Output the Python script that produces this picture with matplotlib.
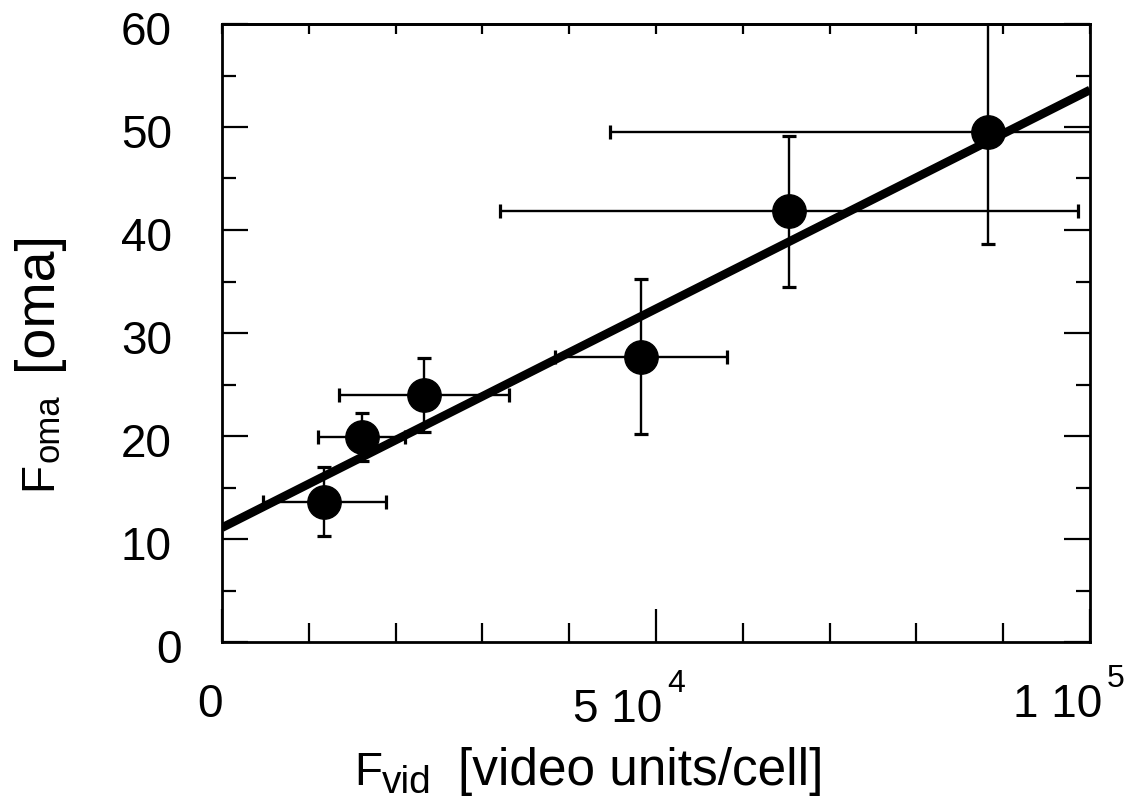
import numpy as np
import matplotlib
matplotlib.use("Agg")
import matplotlib.pyplot as plt
from matplotlib.ticker import MultipleLocator
from matplotlib.transforms import ScaledTranslation

plt.rcParams['font.family'] = ['Liberation Sans', 'DejaVu Sans']

# Measured cell fluorescence: video units vs. OMA counts
f_vid = [11.8e3, 16.1e3, 23.3e3, 48.3e3, 65.3e3, 88.2e3]
f_oma = [13.6, 19.9, 24.0, 27.7, 41.8, 49.5]
f_vid_err = [7.05e3, 5.0e3, 9.8e3, 9.9e3, 33.3e3, 43.5e3]
f_oma_err = [3.35, 2.35, 3.6, 7.5, 7.35, 10.9]

# Linear fit F_oma = intercept + slope * F_vid
fit_intercept = 11.1
fit_slope = 4.25e-4

x_tick_values = [0, 5e4, 1e5]
x_tick_mantissa = ['0', '5 10', '1 10']
x_tick_exponent = ['', '4', '5']
y_tick_values = [0, 10, 20, 30, 40, 50, 60]
y_tick_labels = ['0', '10', '20', '30', '40', '50', '60']

W, H = 1141, 800
fig = plt.figure(figsize=(W / 100, H / 100), dpi=100)
ax = fig.add_axes([222 / W, 1 - 642 / H, (1090 - 222) / W, (642 - 24) / H])

ax.set_xlim(0, 1e5)
ax.set_ylim(0, 60)

# fit line across the full x range
xl = np.array(ax.get_xlim())
ax.plot(xl, fit_intercept + fit_slope * xl, color='black', lw=6.2,
        solid_capstyle='butt', zorder=2)

ax.errorbar(f_vid, f_oma, xerr=f_vid_err, yerr=f_oma_err, fmt='o',
            color='black', ms=24, elinewidth=1.7, capsize=4.7, capthick=2.3,
            zorder=3)

for s in ax.spines.values():
    s.set_linewidth(2.0)

# y axis ticks (left and right, inward)
ax.set_yticks(y_tick_values, y_tick_labels)
ax.yaxis.set_minor_locator(MultipleLocator(5))
ax.tick_params(axis='y', which='major', direction='in', length=19, width=1.6,
               left=True, right=True, labelsize=33, pad=36)
ax.tick_params(axis='y', which='minor', direction='in', length=10, width=1.6,
               left=True, right=True)

# nudge the y tick labels slightly below their ticks
for lab in ax.yaxis.get_majorticklabels():
    dx = 10 if lab.get_text() == '0' else 0
    lab.set_transform(lab.get_transform() +
                      ScaledTranslation(dx / 100, -4 / 100, fig.dpi_scale_trans))

# x axis ticks (bottom, inward); labels are drawn as text below
ax.set_xticks(x_tick_values, [''] * len(x_tick_values))
ax.xaxis.set_minor_locator(MultipleLocator(1e4))
ax.tick_params(axis='x', which='major', direction='in', length=24, width=1.6,
               bottom=True, top=False)
ax.tick_params(axis='x', which='minor', direction='in', length=14, width=1.6,
               bottom=True, top=False)

# short ticks along the top edge
top = ax.secondary_xaxis('top')
top.set_xticks(np.arange(0, 1.0001e5, 1e4))
top.tick_params(direction='in', length=7, width=1.6, labeltop=False)
top.spines['top'].set_linewidth(2.0)

renderer = fig.canvas.get_renderer()


def run_of_text(pieces, start, base, vertical=False):
    """Draw text pieces one after another.

    pieces: (text, fontsize, baseline shift in px, gap before in px).
    Positions are in pixels from the top-left corner of the figure.
    """
    pos = start
    for text, size, shift, gap in pieces:
        pos += gap
        if vertical:
            t = fig.text((base + shift) / W, 1 - pos / H, text, fontsize=size,
                         rotation=90, rotation_mode='anchor',
                         ha='left', va='baseline')
            pos -= t.get_window_extent(renderer).height
        else:
            t = fig.text(pos / W, 1 - (base + shift) / H, text, fontsize=size,
                         ha='left', va='baseline')
            pos += t.get_window_extent(renderer).width


# x tick labels: mantissa followed by a raised exponent
x_label_left = [197, 573, 1013]
x_label_base = [717, 722, 717]
for mant, expo, x0, yb in zip(x_tick_mantissa, x_tick_exponent,
                              x_label_left, x_label_base):
    pieces = [(mant, 33, 0, 0)]
    if expo:
        pieces.append((expo, 23, -30, 5))
    run_of_text(pieces, x0, yb)

# axis titles
run_of_text([('F', 33, 0, 0), ('vid', 28, 8, 0),
             ('[video units/cell]', 37, 0, 26)], 354, 785)
run_of_text([('F', 33, 0, 0), ('oma', 25, 8, 0),
             ('[oma]', 40, 0, -24)], 490, 51, vertical=True)

fig.savefig('out.png', dpi=100)
